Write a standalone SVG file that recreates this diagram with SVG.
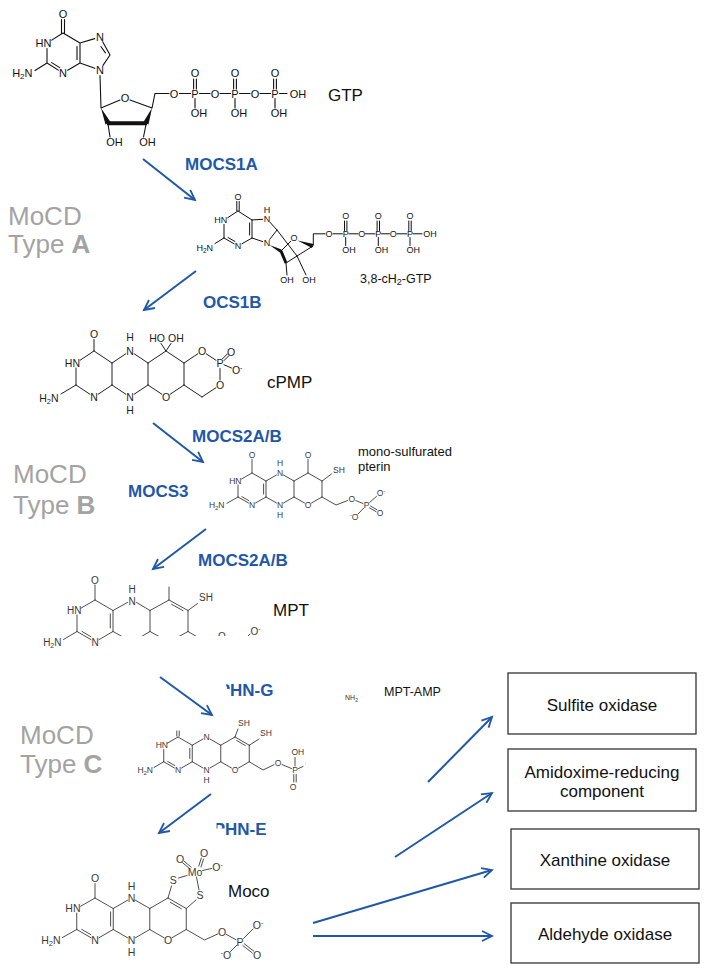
<svg xmlns="http://www.w3.org/2000/svg" width="707" height="974" viewBox="0 0 707 974">
<style>
text{font-family:"Liberation Sans",Arial,Helvetica,sans-serif}
.bd{fill:none;stroke-linecap:round}
.enz{font-weight:bold;font-size:17px;fill:#1f58a8}
.type{font-size:26px;fill:#a3a3a3}
.name{font-size:17px;fill:#111}
.box rect{fill:#fff;stroke:#333;stroke-width:1.3}
.box text{font-size:17px;fill:#111;text-anchor:middle}
.conn line{stroke:#1f58a8;stroke-width:2;marker-end:url(#ah)}
.m{text-anchor:middle}
.e{text-anchor:end}
</style>
<defs>
<marker id="ah" markerUnits="userSpaceOnUse" viewBox="0 0 14 12" markerWidth="14" markerHeight="12" refX="11" refY="6" orient="auto">
<path d="M1,1 L11,6 L1,11" fill="none" stroke="#1f58a8" stroke-width="1.8"/>
</marker>
<clipPath id="cpMPT"><rect x="0" y="560" width="400" height="76"/><rect x="0" y="636" width="113.5" height="30"/></clipPath>
<clipPath id="cpAMP"><rect x="120" y="700" width="185.5" height="100"/></clipPath>
<clipPath id="cG"><rect x="226.3" y="670" width="5" height="19"/><rect x="229.5" y="670" width="60" height="40"/></clipPath>
<clipPath id="cE"><rect x="216.5" y="815" width="9" height="13.5"/><rect x="224.8" y="815" width="60" height="30"/></clipPath>
</defs>
<rect width="707" height="974" fill="#fff"/>

<!-- GTP -->
<g id="gtp">
<path class="bd" stroke="#111" stroke-width="1.1" d="M61.5,19.5V33 M64.5,19.5V33.5 M63,33L51.7,40.1 M47,48.5V63 M47,63L58.3,70.1 M51.7,62.6L59.7,67.6 M47,63L35,70.5 M67.7,70.2L80,63 M80,63V43 M77,46.5V59.5 M80,43L63,33 M80,43L94.7,38.6 M102.7,41.8L110,55 M100.9,46.5L105.4,52.9 M110,55L103,65.4 M94.8,68.2L80,63 M100,75.5L101,108 M101,108L120,100.1 M130,99.9L152,108 M108,124L110,137 M146,124.5L143.5,137 M152,108L155,93.5H169 M179.5,93.5H190.5 M199.5,93.5H210 M220,93.5H230.5 M239.5,93.5H250 M260,93.5H270.5 M279.5,93.5H287 M193.6,79V89 M196.4,79V89 M195,98.5V108 M233.6,79V89 M236.4,79V89 M235,98.5V108 M273.6,79V89 M276.4,79V89 M275,98.5V108"/>
<polygon points="101,108 105.5,124.5 110.5,122" fill="#111"/>
<polygon points="152,108 143.5,122 148.5,124.5" fill="#111"/>
<line x1="107" y1="123.3" x2="147" y2="123.3" stroke="#111" stroke-width="4"/>
<g font-size="11" fill="#111">
<text x="63" y="18" class="m">O</text>
<text x="51.5" y="47" class="e">HN</text>
<text x="32.5" y="77" class="e">H<tspan font-size="8" dy="2">2</tspan><tspan dy="-2">N</tspan></text>
<text x="63" y="77" class="m">N</text>
<text x="100" y="41" class="m">N</text>
<text x="100" y="74" class="m">N</text>
<text x="125" y="102" class="m">O</text>
<text x="114.5" y="146" class="m">OH</text>
<text x="147.5" y="146" class="m">OH</text>
<text x="174" y="98" class="m">O</text>
<text x="195" y="98" class="m">P</text>
<text x="215" y="98" class="m">O</text>
<text x="235" y="98" class="m">P</text>
<text x="255" y="98" class="m">O</text>
<text x="275" y="98" class="m">P</text>
<text x="298" y="98" class="m">OH</text>
<text x="195" y="77" class="m">O</text>
<text x="235" y="77" class="m">O</text>
<text x="275" y="77" class="m">O</text>
<text x="190.7" y="117">OH</text>
<text x="230.7" y="117">OH</text>
<text x="270.7" y="117">OH</text>
</g>
<text x="328" y="101" class="name">GTP</text>
</g>

<!-- 3,8-cH2-GTP -->
<g id="cH2GTP">
<path class="bd" stroke="#111" stroke-width="1" d="M236.8,201.5V211 M239.2,201.5V211 M238,211L227.8,217.6 M224,224.5V238 M224,238L234.1,243.8 M228,237.5L235,241.5 M224,238L215,243.5 M241.9,243.8L252,238 M252,238V220 M249.6,223V235 M252,220L238,211 M252,220L262.5,219.3 M270,222.3L277,230 M277,230L269.7,239.4 M262.7,241.6L252,238 M277,230L297,256 M281,251L290.8,241.2 M313,246L297,256 M286,263L297,256 M286,263L287,275 M297,256L306,275 M313.3,245V233.8H325 M333,233.8H342.5 M349,233.8H358 M365.5,233.8H375 M381.5,233.8H389.5 M397,233.8H406.8 M413.2,233.8H422 M344.5,221V230.5 M346.9,221V230.5 M345.7,237.5V245.5 M377.1,221V230.5 M379.5,221V230.5 M378.3,237.5V245.5 M408.8,221V230.5 M411.2,221V230.5 M410,237.5V245.5"/>
<polygon points="269.5,245 281.5,249.5 280,252.5" fill="#111"/>
<polygon points="297.5,240.5 313.5,244 312,248" fill="#111"/>
<line x1="281" y1="251" x2="286" y2="263" stroke="#111" stroke-width="3"/>
<g font-size="9" fill="#111">
<text x="238" y="200.2" class="m">O</text>
<text x="227.3" y="223.2" class="e">HN</text>
<text x="213" y="251.2" class="e">H<tspan font-size="6.5" dy="1.5">2</tspan><tspan dy="-1.5">N</tspan></text>
<text x="238" y="249.2" class="m">N</text>
<text x="267" y="222.2" class="m">N</text>
<text x="267" y="212.5" class="m">H</text>
<text x="267" y="246.2" class="m">N</text>
<text x="294" y="241.2" class="m">O</text>
<text x="287" y="283" class="m">OH</text>
<text x="309" y="283" class="m">OH</text>
<text x="329" y="237.2" class="m">O</text>
<text x="345.7" y="237.2" class="m">P</text>
<text x="361.7" y="237.2" class="m">O</text>
<text x="378.3" y="237.2" class="m">P</text>
<text x="393.3" y="237.2" class="m">O</text>
<text x="410" y="237.2" class="m">P</text>
<text x="430" y="237.2" class="m">OH</text>
<text x="345.7" y="219.2" class="m">O</text>
<text x="378.3" y="219.2" class="m">O</text>
<text x="410" y="219.2" class="m">O</text>
<text x="342.2" y="253.2">OH</text>
<text x="374.8" y="253.2">OH</text>
<text x="406.5" y="253.2">OH</text>
</g>
<text x="360" y="283" font-size="12.5" fill="#111">3,8-cH<tspan font-size="9" dy="2">2</tspan><tspan dy="-2">-GTP</tspan></text>
</g>

<!-- cPMP -->
<g id="cPMP">
<path class="bd" stroke="#222" stroke-width="1" d="M94,351V339.5 M94,351L80.2,360.2 M76,368V385 M76,385L89.8,394.2 M76,385L61,394 M98.2,394.2L112,385 M112,385V363 M112,363L94,351 M112,363L125.8,353.8 M134.2,353.8L148,363 M148,363V385 M148,385L134.2,394.2 M125.8,394.2L112,385 M148,363L166,351 M166,351L184,363 M184,363V385 M184,385L170.2,394.2 M161.8,394.2L148,385 M166,351L161,343.5 M166,351L171,343.5 M184,363L197.8,353.8 M206.2,353.8L216,360.3 M220,368.5V380 M215.8,387.8L202,397 M202,397L184,385 M224,360.6L229,355.6 M222.3,359L227.3,354 M224,364.8L231.5,368"/>
<g font-size="10.5" fill="#222">
<text x="94" y="337.8" class="m">O</text>
<text x="80" y="366.8" class="e">HN</text>
<text x="58.5" y="401.8" class="e">H<tspan font-size="7.5" dy="2">2</tspan><tspan dy="-2">N</tspan></text>
<text x="94" y="400.8" class="m">N</text>
<text x="130" y="354.8" class="m">N</text>
<text x="130" y="341" class="m">H</text>
<text x="130" y="400.8" class="m">N</text>
<text x="130" y="413.5" class="m">H</text>
<text x="166" y="400.8" class="m">O</text>
<text x="165" y="341.8" class="e">HO</text>
<text x="168" y="341.8">OH</text>
<text x="202" y="354.8" class="m">O</text>
<text x="220" y="366.8" class="m">P</text>
<text x="220" y="388.8" class="m">O</text>
<text x="231" y="355.8" class="m">O</text>
<text x="237.2" y="373.8" class="m">O<tspan font-size="7" dy="-4">-</tspan></text>
</g>
<text x="267" y="388" class="name" font-size="17.5">cPMP</text>
</g>

<!-- mono-sulfurated pterin -->
<g id="monoS">
<path class="bd" stroke="#3a3a3a" stroke-width="0.9" d="M252,473V459.5 M252,473L241.5,479 M238,485V497 M238,497L248.5,503 M241.9,496.7L248.9,500.7 M238,497L227,503.3 M255.5,503L266,497 M266,497V481 M263.6,484V494 M266,481L252,473 M266,481L276.5,475 M283.5,475L294,481 M294,481V497 M294,497L283.5,503 M276.5,503L266,497 M294,481L308,473 M308,473V459.5 M308,473L322,481 M322,481V497 M322,497L311.5,503 M304.5,503L294,497 M322,481L331.5,474 M322,497L336,505L347.5,500.6 M355.8,500.6L363,503.5 M369.7,502.4L376.5,496.4 M369.5,507.9L376,511.6 M370.5,506.1L377,509.8 M363.8,508L358,514"/>
<g font-size="8.5" fill="#3a3a3a">
<text x="252" y="458" class="m">O</text>
<text x="241.5" y="484" class="e">HN</text>
<text x="224.5" y="508" class="e">H<tspan font-size="6" dy="1.5">2</tspan><tspan dy="-1.5">N</tspan></text>
<text x="252" y="508" class="m">N</text>
<text x="280" y="476" class="m">N</text>
<text x="280" y="466.3" class="m">H</text>
<text x="280" y="508" class="m">N</text>
<text x="280" y="518" class="m">H</text>
<text x="308" y="458" class="m">O</text>
<text x="308" y="508" class="m">O</text>
<text x="333" y="472.5">SH</text>
<text x="351.7" y="502" class="m">O</text>
<text x="366.7" y="508" class="m">P</text>
<text x="381" y="496.3" class="m">O<tspan font-size="6" dy="-3">-</tspan></text>
<text x="380" y="515.7" class="m">O</text>
<text x="354" y="520.3" class="m"><tspan font-size="6" dy="-3">-</tspan><tspan dy="3">O</tspan></text>
</g>
<text x="358" y="456" font-size="13" fill="#111">mono-sulfurated</text>
<text x="358" y="471" font-size="13" fill="#111">pterin</text>
</g>

<!-- MPT -->
<g id="MPT">
<g clip-path="url(#cpMPT)">
<path class="bd" stroke="#3a3a3a" stroke-width="0.9" d="M95,600V585 M95,600L80.9,608.2 M77,615V631.5 M77,631.5L91.1,639.7 M81.9,631.4L90.9,636.7 M77,631.5L63.5,639.5 M98.9,639.7L113,631.5 M113,631.5V610.5 M110.3,614V628 M113,610.5L95,600 M113,610.5L127.6,602.4 M136.4,602.4L150,610.5 M150,610.5V631.5 M150,631.5L132,642 M132,642L113,631.5 M150,631.5L169,642 M150,610.5L169,600 M169,600V587 M169,600L188,610.5 M171.6,604.3L183,610.6 M188,610.5L197.5,603.5 M188,610.5V631.5 M188,631.5L169,642 M188,631.5L206,642L217,637.5 M240,645L250,634"/>
<g font-size="10" fill="#3a3a3a">
<text x="95" y="583.6" class="m">O</text>
<text x="81.5" y="614" class="e">HN</text>
<text x="61.5" y="645.6" class="e">H<tspan font-size="7" dy="2">2</tspan><tspan dy="-2">N</tspan></text>
<text x="95" y="645.6" class="m">N</text>
<text x="132" y="604.5" class="m">N</text>
<text x="132" y="592.5" class="m">H</text>
<text x="199" y="600.6">SH</text>
<text x="222" y="639.6" class="m">O</text>
<text x="255.5" y="634.6" class="m">O<tspan font-size="7" dy="-4">-</tspan></text>
</g>
</g>
<text x="273" y="616" class="name" font-size="17.5">MPT</text>
</g>

<!-- MPT-AMP (as printed) -->
<g id="MPTAMP">
<path class="bd" stroke="#3a3a3a" stroke-width="0.9" d="M176.8,731V736 M179.2,731V736 M178,737L167.2,743.3 M163.75,749.5V761.75 M163.75,761.75L174.5,768 M167.7,761.5L174.8,765.6 M163.75,761.75L154,767.5 M181.5,768L192.25,761.75 M192.25,761.75V745.25 M189.8,748.5V758.5 M192.25,745.25L178,737 M192.25,745.25L203,739 M210,739L220.75,745.25 M220.75,745.25V761.75 M220.75,761.75L210,768 M203,768L192.25,761.75 M220.75,745.25L235,737 M235,737L249.25,745.25 M236.7,740.5L245.3,745.5 M249.25,745.25V761.75 M249.25,761.75L238.5,768 M231.5,768L220.75,761.75 M235,737L238,729 M249.25,745.25L259,739 M249.25,761.75L263,770L274,764.7 M282,764.6L291.5,768.5 M295,766V757.5 M298.5,768.5L303,766.5 M293.8,774.5V782 M296.2,774.5V782"/>
<g font-size="8.5" fill="#3a3a3a">
<text x="168" y="748.3" class="e">HN</text>
<text x="153" y="773" class="e">H<tspan font-size="6" dy="1.5">2</tspan><tspan dy="-1.5">N</tspan></text>
<text x="178" y="773" class="m">N</text>
<text x="206.5" y="740" class="m">N</text>
<text x="206.5" y="773" class="m">N</text>
<text x="206.5" y="783" class="m">H</text>
<text x="235" y="773" class="m">O</text>
<text x="238" y="726">SH</text>
<text x="260" y="736">SH</text>
<text x="278" y="766" class="m">O</text>
<text x="295" y="773" class="m">P</text>
<text x="291.5" y="755">OH</text>
<text x="308.5" y="766" class="m" clip-path="url(#cpAMP)">O</text>
<text x="293" y="790" class="m">O</text>
</g>
<text x="345" y="700" font-size="7" fill="#333">NH<tspan font-size="5" dy="1.5">2</tspan></text>
<text x="384" y="696" font-size="12.5" fill="#111">MPT-AMP</text>
</g>

<!-- Moco -->
<g id="Moco">
<path class="bd" stroke="#3a3a3a" stroke-width="0.9" d="M95,898V883.5 M95,898L80.6,906.3 M76.75,913V929.5 M76.75,929.5L91.1,937.8 M81.7,929.4L90.8,934.6 M76.75,929.5L62.5,937.5 M98.9,937.8L113.25,929.5 M113.25,929.5V908.5 M110.6,912V926 M113.25,908.5L95,898 M113.25,908.5L127.6,900.2 M135.4,900.2L149.75,908.5 M149.75,908.5V929.5 M149.75,929.5L135.4,937.8 M127.6,937.8L113.25,929.5 M149.75,908.5L168,898 M168,898L186.25,908.5 M170.35,902.35L181.3,908.65 M186.25,908.5V929.5 M186.25,929.5L171.9,937.8 M164.1,937.8L149.75,929.5 M168,898L171.5,886 M186.25,908.5L196,900 M178.5,878L187,875.5 M196.5,877L199,890 M184.1,861.2L191.2,867.2 M182.7,862.8L189.8,868.8 M201.3,858L198.8,866 M203.5,859L201,867 M202.5,870.5L211.5,868.5 M186.25,929.5L204.5,940L217.9,933.9 M226,934.2L236,939.8 M243.5,938.5L253,929 M242.9,945.6L252.3,952.9 M244.3,943.8L253.7,951.1 M237,945L230.5,951.5"/>
<g font-size="10.5" fill="#3a3a3a">
<text x="95" y="881.8" class="m">O</text>
<text x="80.5" y="912.3" class="e">HN</text>
<text x="60.5" y="943.8" class="e">H<tspan font-size="7.5" dy="2">2</tspan><tspan dy="-2">N</tspan></text>
<text x="95" y="943.8" class="m">N</text>
<text x="131.5" y="901.8" class="m">N</text>
<text x="131.5" y="890" class="m">H</text>
<text x="131.5" y="943.8" class="m">N</text>
<text x="131.5" y="955.5" class="m">H</text>
<text x="168" y="943.8" class="m">O</text>
<text x="173.3" y="883.8" class="m">S</text>
<text x="200" y="898.8" class="m">S</text>
<text x="195" y="875.8" class="m">Mo</text>
<text x="180" y="863" class="m">O</text>
<text x="204" y="857" class="m">O</text>
<text x="217.5" y="871" class="m">O<tspan font-size="7" dy="-4">-</tspan></text>
<text x="222" y="935.8" class="m">O</text>
<text x="240" y="945.5" class="m">P</text>
<text x="258" y="928.8" class="m">O<tspan font-size="7" dy="-4">-</tspan></text>
<text x="257" y="958.8" class="m">O</text>
<text x="226" y="958.8" class="m"><tspan font-size="7" dy="-4">-</tspan><tspan dy="4">O</tspan></text>
</g>
<text x="228" y="897" class="name">Moco</text>
</g>

<!-- enzyme labels -->
<g id="enzymes">
<text x="185" y="170" class="enz">MOCS1A</text>
<text x="203" y="308" class="enz">OCS1B</text>
<text x="192" y="442" class="enz">MOCS2A/B</text>
<text x="128" y="497" class="enz">MOCS3</text>
<text x="198" y="566" class="enz">MOCS2A/B</text>
<text x="218.7" y="696" class="enz" clip-path="url(#cG)">PHN-G</text>
<text x="213.7" y="835" class="enz" clip-path="url(#cE)">PHN-E</text>
</g>

<!-- MoCD type labels -->
<g id="types">
<text x="8" y="225" class="type">MoCD</text>
<text x="8" y="253" class="type">Type <tspan font-weight="bold">A</tspan></text>
<text x="13" y="483" class="type">MoCD</text>
<text x="13" y="514" class="type">Type <tspan font-weight="bold">B</tspan></text>
<text x="20" y="744" class="type">MoCD</text>
<text x="20" y="773" class="type">Type <tspan font-weight="bold">C</tspan></text>
</g>

<!-- target enzymes -->
<g id="box-sulfite" class="box"><rect x="508" y="673" width="188" height="61"/><text x="602" y="711">Sulfite oxidase</text></g>
<g id="box-amidoxime" class="box"><rect x="508" y="749" width="188" height="62"/><text x="602" y="778">Amidoxime-reducing</text><text x="602" y="797">component</text></g>
<g id="box-xanthine" class="box"><rect x="511" y="829" width="188" height="60"/><text x="605" y="866">Xanthine oxidase</text></g>
<g id="box-aldehyde" class="box"><rect x="511" y="903" width="188" height="60"/><text x="605" y="940">Aldehyde oxidase</text></g>

<!-- connectors -->
<g id="connectors" class="conn">
<line x1="143" y1="159" x2="195" y2="200"/>
<line x1="196" y1="271" x2="144" y2="310"/>
<line x1="153" y1="423" x2="203" y2="462"/>
<line x1="206" y1="529" x2="153" y2="569"/>
<line x1="160" y1="677" x2="212" y2="715"/>
<line x1="211" y1="794" x2="159" y2="833"/>
<line x1="428" y1="782" x2="492" y2="717"/>
<line x1="395" y1="857" x2="492" y2="793"/>
<line x1="313" y1="923" x2="492" y2="870"/>
<line x1="313" y1="936" x2="492" y2="936"/>
</g>
</svg>
